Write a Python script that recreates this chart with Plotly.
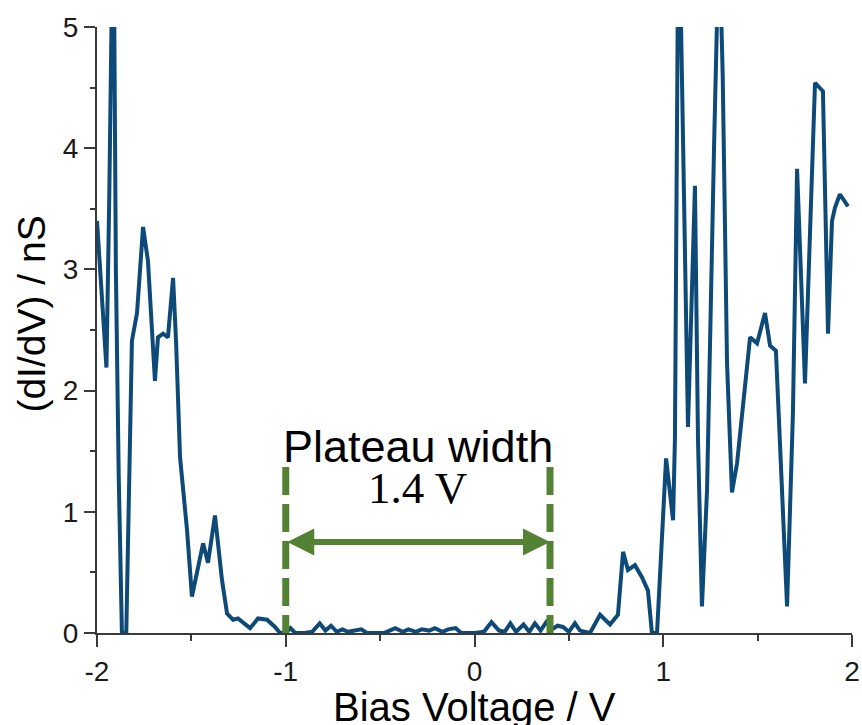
import plotly.graph_objects as go

# Differential conductance spectrum
bias_v = [
    -2.000, -1.975, -1.950, -1.935, -1.920, -1.910, -1.900, -1.885, -1.868, -1.845,
    -1.815, -1.788, -1.756, -1.730, -1.693, -1.677, -1.650, -1.624, -1.597, -1.581,
    -1.571, -1.560, -1.523, -1.497, -1.438, -1.412, -1.375, -1.338, -1.311, -1.279,
    -1.253, -1.189, -1.147, -1.099, -1.057, -1.030,
    -1.000, -0.975, -0.950, -0.900, -0.860, -0.820, -0.790, -0.760, -0.730, -0.700,
    -0.670, -0.640, -0.600, -0.570, -0.520, -0.480, -0.450, -0.420, -0.380, -0.350,
    -0.310, -0.280, -0.240, -0.210, -0.170, -0.140, -0.100, -0.070, 0.000, 0.050,
    0.090, 0.130, 0.160, 0.190, 0.220, 0.260, 0.290, 0.320, 0.350, 0.380,
    0.410, 0.440,
    0.469, 0.500, 0.532, 0.559, 0.612, 0.665, 0.718, 0.760, 0.787, 0.813,
    0.850, 0.887, 0.919, 0.940, 0.967, 0.993, 1.015, 1.036, 1.052, 1.062,
    1.078, 1.090, 1.100, 1.131, 1.168, 1.184, 1.205, 1.232, 1.269, 1.290,
    1.302, 1.315, 1.338, 1.364, 1.391, 1.460, 1.497, 1.539, 1.566, 1.597,
    1.656, 1.687, 1.709, 1.751, 1.804, 1.846, 1.873, 1.894, 1.910, 1.936,
    1.979,
]
didv_ns = [
    3.40, 2.85, 2.19, 3.60, 5.40, 5.40, 3.00, 1.30, 0.00, 0.00,
    2.41, 2.64, 3.35, 3.07, 2.08, 2.44, 2.47, 2.44, 2.93, 2.40,
    1.94, 1.45, 0.85, 0.30, 0.74, 0.58, 0.97, 0.44, 0.16, 0.11,
    0.12, 0.04, 0.12, 0.11, 0.05, 0.00,
    0.00, 0.04, 0.00, 0.00, 0.01, 0.08, 0.02, 0.06, 0.01, 0.03,
    0.01, 0.02, 0.03, 0.00, 0.00, 0.00, 0.02, 0.04, 0.01, 0.03,
    0.01, 0.03, 0.02, 0.04, 0.01, 0.03, 0.04, 0.00, 0.00, 0.01,
    0.09, 0.02, 0.01, 0.08, 0.01, 0.07, 0.01, 0.08, 0.02, 0.09,
    0.03, 0.06,
    0.05, 0.01, 0.08, 0.02, 0.00, 0.15, 0.07, 0.15, 0.67, 0.52,
    0.56, 0.46, 0.35, 0.00, 0.00, 0.87, 1.44, 1.15, 0.93, 1.61,
    5.40, 5.40, 4.40, 1.70, 3.69, 1.60, 0.22, 1.18, 4.00, 5.40,
    5.40, 4.60, 2.22, 1.16, 1.40, 2.44, 2.39, 2.64, 2.37, 2.33,
    0.22, 1.81, 3.83, 2.06, 4.54, 4.47, 2.47, 3.40, 3.51, 3.62,
    3.52,
]

# Plateau annotation
plateau_start = -1.0
plateau_end = 0.4
plateau_marker_top = 1.37
arrow_level = 0.75
plateau_label = "Plateau width"
width_label = "1.4 V"

x_ticks = [-2, -1, 0, 1, 2]
y_ticks = [0, 1, 2, 3, 4, 5]

BLUE = "#0e4a78"
GREEN = "#548235"
AXIS = "#3a3a3a"
TEXT = "#1a1a1a"

fig = go.Figure()

fig.add_trace(go.Scatter(
    x=bias_v, y=didv_ns, mode="lines",
    line=dict(color=BLUE, width=4),
    showlegend=False,
))

for xv in (plateau_start, plateau_end):
    fig.add_trace(go.Scatter(
        x=[xv, xv], y=[plateau_marker_top, 0], mode="lines",
        line=dict(color=GREEN, width=7, dash="28px,9px"),
        showlegend=False, hoverinfo="skip",
    ))

# double-headed arrow spanning the plateau
fig.add_annotation(
    x=plateau_end, y=arrow_level, ax=plateau_start, ay=arrow_level,
    xref="x", yref="y", axref="x", ayref="y",
    text="", showarrow=True,
    arrowhead=2, startarrowhead=2, arrowside="end+start",
    arrowsize=0.9, startarrowsize=0.9, arrowwidth=6, arrowcolor=GREEN,
    standoff=0, startstandoff=0,
)

mid = (plateau_start + plateau_end) / 2
fig.add_annotation(
    x=mid, y=1.54, xref="x", yref="y", text=plateau_label, showarrow=False,
    font=dict(family="Liberation Sans, Arial", size=45, color="#000000"),
    xanchor="center", yanchor="middle",
)
fig.add_annotation(
    x=mid, y=1.20, xref="x", yref="y", text=width_label, showarrow=False,
    font=dict(family="Liberation Serif, Times New Roman", size=45, color="#000000"),
    xanchor="center", yanchor="middle",
)

# axis titles
fig.add_annotation(
    x=0.5, y=-0.083, xref="paper", yref="paper", text="Bias Voltage / V",
    showarrow=False, xanchor="center", yanchor="top",
    font=dict(family="Liberation Sans, Arial", size=40, color="#000000"),
)
fig.add_annotation(
    x=-0.087, y=0.526, xref="paper", yref="paper", text="(dI/dV) / nS",
    showarrow=False, xanchor="center", yanchor="middle", textangle=-90,
    font=dict(family="Liberation Sans, Arial", size=39, color="#000000"),
)

fig.update_layout(
    width=862, height=725,
    margin=dict(l=97, r=10, t=27, b=92),
    paper_bgcolor="white", plot_bgcolor="white",
    font=dict(family="Liberation Sans, Arial", color=TEXT),
    xaxis=dict(
        range=[-2, 2], tickvals=x_ticks, ticktext=[str(v) for v in x_ticks],
        automargin=False,
        showgrid=False, zeroline=False, showline=True,
        linecolor=AXIS, linewidth=2, layer="below traces",
        ticks="outside", ticklen=12, tickwidth=2, tickcolor=AXIS,
        minor=dict(dtick=0.5, ticks="outside", ticklen=6, tickwidth=2, tickcolor=AXIS),
        tickfont=dict(size=28, color=TEXT),
    ),
    yaxis=dict(
        range=[0, 5], tickvals=y_ticks, ticktext=[str(v) for v in y_ticks],
        automargin=False,
        showgrid=False, zeroline=False, showline=True,
        linecolor=AXIS, linewidth=2, layer="below traces",
        ticks="outside", ticklen=11, tickwidth=2, tickcolor=AXIS,
        minor=dict(dtick=0.5, ticks="outside", ticklen=5, tickwidth=2, tickcolor=AXIS),
        tickfont=dict(size=28, color=TEXT),
    ),
)

fig.write_html("out.html")
